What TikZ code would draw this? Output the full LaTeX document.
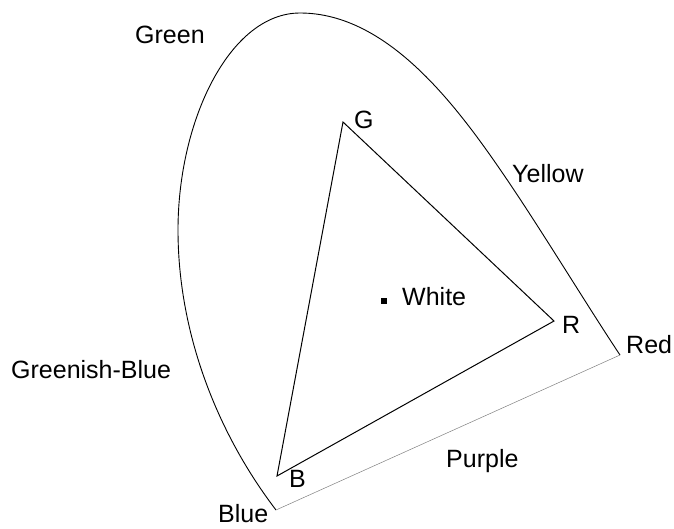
\documentclass[tikz,border=0pt]{standalone}
\usepackage{fontspec}
\setmainfont{Liberation Sans}
\usetikzlibrary{positioning}

\begin{document}
\begin{tikzpicture}[x=1pt, y=-1pt, font=\fontsize{25}{30}\selectfont,
    lbl/.style={anchor=base west, inner sep=0pt}]
  \useasboundingbox (0,0) rectangle (674,528);
  % ends of the horseshoe and the three primaries
  \coordinate (blue) at (276,510);
  \coordinate (red) at (620,355);
  \coordinate (G) at (343,122);
  \coordinate (R) at (554,321);
  \coordinate (B) at (277,476);
  \draw[line width=0.9pt] (blue) .. controls (215,430) and (178,330) .. (178,230)
    .. controls (178,120) and (230,13) .. (300,13)
    .. controls (390,13) and (460,110) .. (510,184)
    .. controls (545,236) and (590,310) .. (red);
  \draw[gray, line width=0.5pt] (blue) -- (red);
  \draw[line width=1pt] (G) -- (R) -- (B) -- cycle;
  \node[fill, minimum size=6pt, inner sep=0pt] (white) at (384,301) {};
  % labels
  \node[lbl] (lgreen) at (135,43) {Green};
  \node[lbl] (lgb) at (11,378) {Greenish-Blue};
  \node[lbl] (lblue) at (218,522) {Blue};
  \node[lbl] (lpurple) at (446,467) {Purple};
  \node[lbl] (lred) at (626,353) {Red};
  \node[lbl] (lyellow) at (512,182) {Yellow};
  \node[lbl] (lwhite) at (402,305) {White};
  \node[lbl] (lG) at (354,128) {G};
  \node[lbl] (lR) at (562,333) {R};
  \node[lbl] (lB) at (289,487) {B};
\end{tikzpicture}
\end{document}
